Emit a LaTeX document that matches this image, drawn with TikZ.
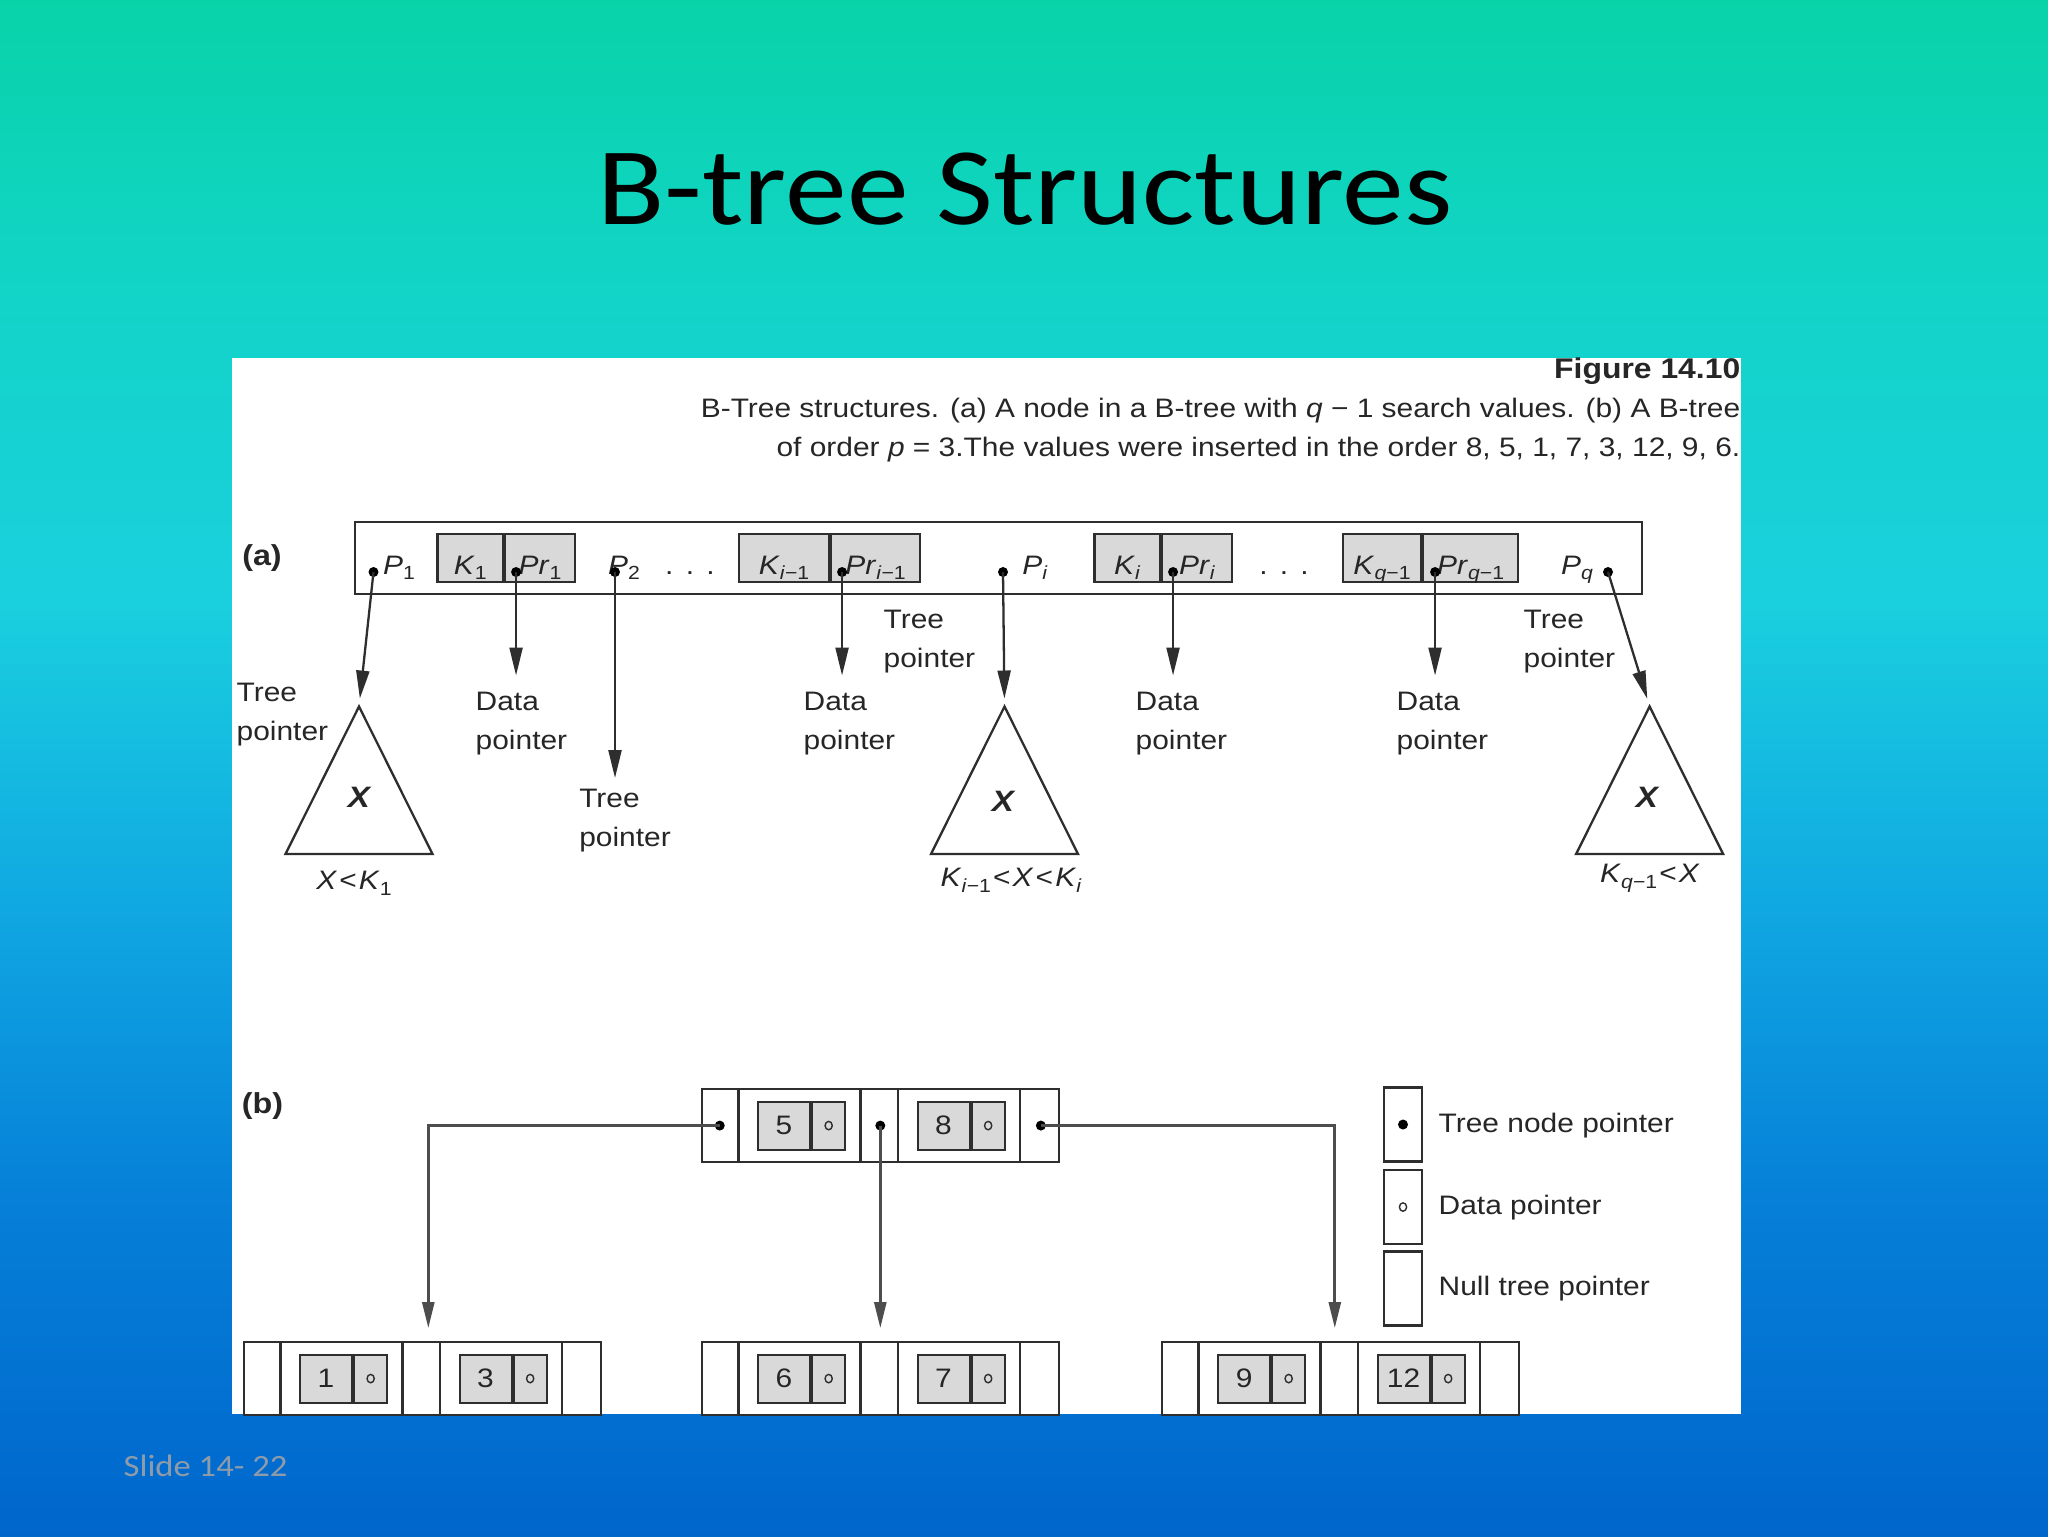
\documentclass[tikz,border=0pt]{standalone}
\usepackage{fontspec}
\setmainfont{Liberation Sans}[FakeStretch = 1.12]
\newfontfamily\titlefont{Carlito}[FakeStretch = 1.12]
\usetikzlibrary{arrows.meta}
\definecolor{bgtop}{HTML}{08D3A8}
\definecolor{bgteal}{HTML}{12D4C6}
\definecolor{bgcyan}{HTML}{1AD0DE}
\definecolor{bgsky}{HTML}{10A8E2}
\definecolor{bgblue}{HTML}{0680D8}
\definecolor{bgbottom}{HTML}{0066CC}
\definecolor{cellgray}{HTML}{D9D9D9}
\definecolor{linegray}{HTML}{2E2E2E}
\definecolor{footgray}{HTML}{8E9BAA}
\pgfdeclareverticalshading{slidebg}{100bp}{color(0bp)=(bgbottom); color(25bp)=(bgbottom); color(36bp)=(bgblue); color(45.5bp)=(bgsky); color(55.5bp)=(bgcyan); color(66bp)=(bgteal); color(75bp)=(bgtop); color(100bp)=(bgtop)}
\newcommand{\lowix}[1]{\raisebox{-0.4ex}{\fontsize{5.4pt}{6pt}\selectfont #1}}

\begin{document}
\begin{tikzpicture}[x = 0.1mm, y = -0.1mm,
        every node/.style = {font = \fontsize{7.6pt}{11.1pt}\selectfont, text = black!85},
        cell/.style = {draw = linegray, fill = cellgray, line width = 0.6pt, rectangle, minimum height = 4.85mm, inner sep = 0pt},
        pairtext/.style = {text height = 9.1pt, text depth = 0pt},
        ptrdot/.style = {circle, fill = black, inner sep = 0pt, minimum size = 1mm},
        ptrarrow/.style = {-{Triangle[length = 2.8mm, width = 1.3mm]}, line width = 0.65pt, draw = linegray},
        treelink/.style = {-{Triangle[length = 2.6mm, width = 1.2mm]}, line width = 0.8pt, draw = linegray!85, shorten > = 1.3mm},
        subtree/.style = {draw = linegray, line width = 0.65pt},
        ptrlabel/.style = {anchor = north west, align = left, inner sep = 0pt},
        btnode/.style = {draw = linegray, line width = 0.6pt, rectangle, minimum width = 35.65mm, minimum height = 7.3mm, inner sep = 0pt},
        keybox/.style = {cell, minimum width = 5.2mm, minimum height = 4.8mm},
        datamark/.style = {path picture = {\draw [line width = 0.4pt] (path picture bounding box.center) ellipse (0.36mm and 0.42mm);}},
        databox/.style = {cell, datamark, minimum width = 3.3mm, minimum height = 4.8mm},
        legbox/.style = {draw = linegray, line width = 0.6pt, minimum width = 3.8mm, minimum height = 7.4mm, inner sep = 0pt},
        subtreex/.style = {font = \bfseries\itshape\fontsize{8.4pt}{10pt}\selectfont}]
        \useasboundingbox (0,0) rectangle (2048,1536);
        % Slide background and figure panel
        \shade [shading = slidebg] (0,0) rectangle (2048,1536);
        \fill [white] (232,358) rectangle (1741,1414);
        \node [font = \titlefont\fontsize{31.4pt}{36pt}\selectfont, text = black, anchor = base] (title) at (1025,224) {B-tree Structures};
        \node [font = \titlefont\fontsize{8.8pt}{10pt}\selectfont, text = footgray, anchor = base west, inner sep = 0pt] (slideno) at (123,1476) {Slide 14- 22};
        % Caption
        \node [font = \bfseries\fontsize{8.1pt}{10pt}\selectfont, anchor = base east, inner sep = 0pt] (figno) at (1741,378) {Figure 14.10};
        \node [anchor = base east, inner sep = 0pt] (capa) at (1741,417) {B-Tree structures. (a) A node in a B-tree with \textit{q} − 1 search values. (b) A B-tree};
        \node [anchor = base east, inner sep = 0pt] (capb) at (1741,456) {of order \textit{p} = 3.The values were inserted in the order 8, 5, 1, 7, 3, 12, 9, 6.};

        % (a) Nodes
        \node [font = \bfseries\fontsize{8.2pt}{10pt}\selectfont] (alabel) at (262,558) {(a)};
        \node [draw = linegray, line width = 0.6pt, rectangle, minimum width = 128.7mm, minimum height = 7.2mm, inner sep = 0pt] (anode) at (998.5,558) {};
        \node [cell, pairtext, minimum width = 6.55mm] (k1) at (470.25,558) {\textit{K}\lowix{1}};
        \node [cell, pairtext, minimum width = 7mm, anchor = west] (pr1) at (k1.east) {\textit{Pr}\lowix{1}};
        \node [cell, pairtext, minimum width = 9mm] (kim) at (784,558) {\textit{K}\lowix{\textit{i}−1}};
        \node [cell, pairtext, minimum width = 8.9mm, anchor = west] (prim) at (kim.east) {\textit{Pr}\lowix{\textit{i}−1}};
        \node [cell, pairtext, minimum width = 6.55mm] (ki) at (1127.25,558) {\textit{K}\lowix{\textit{i}}};
        \node [cell, pairtext, minimum width = 7mm, anchor = west] (pri) at (ki.east) {\textit{Pr}\lowix{\textit{i}}};
        \node [cell, pairtext, minimum width = 7.8mm] (kqm) at (1382,558) {\textit{K}\lowix{\textit{q}−1}};
        \node [cell, pairtext, minimum width = 9.5mm, anchor = west] (prqm) at (kqm.east) {\textit{Pr}\lowix{\textit{q}−1}};
        \node [anchor = base] (p1) at (399,574) {\textit{P}\lowix{1}};
        \node [anchor = base] (p2) at (624,574) {\textit{P}\lowix{2}};
        \node [anchor = base] (pi) at (1035,574) {\textit{P}\lowix{\textit{i}}};
        \node [anchor = base] (pq) at (1577,574) {\textit{P}\lowix{\textit{q}}};
        \node [anchor = base] (dotsa) at (690,574) {.\hspace{3.5pt}.\hspace{3.5pt}.};
        \node [anchor = base] (dotsb) at (1284,574) {.\hspace{3.5pt}.\hspace{3.5pt}.};
        % Pointer dots
        \node [ptrdot] (p1dot) at (373.5,572) {};
        \node [ptrdot] (pr1dot) at ([xshift = 1.2mm, yshift = -1.4mm] pr1.west) {};
        \node [ptrdot] (p2dot) at (615,572) {};
        \node [ptrdot] (primdot) at ([xshift = 1.2mm, yshift = -1.4mm] prim.west) {};
        \node [ptrdot] (pidot) at (1003,572) {};
        \node [ptrdot] (pridot) at ([xshift = 1.2mm, yshift = -1.4mm] pri.west) {};
        \node [ptrdot] (prqmdot) at ([xshift = 1.3mm, yshift = -1.4mm] prqm.west) {};
        \node [ptrdot] (pqdot) at (1608,572) {};
        % Subtrees
        \coordinate (ta) at (359,706.5);
        \coordinate (tb) at (1004.5,706.5);
        \coordinate (tc) at (1649.6,706.5);
        \foreach \t in {ta, tb, tc}
            \draw [subtree] (\t) -- ++(-73.5,147.5) -- ++(147,0) -- cycle;
        \node [subtreex] (xa) at (359,797) {X};
        \node [subtreex] (xb) at (1003,801) {X};
        \node [subtreex] (xc) at (1647,797) {X};
        \node (rangea) at (354,883) {\textit{X}\kern0.6pt<\kern0.6pt\textit{K}\lowix{1}};
        \node (rangeb) at (1011,880) {\textit{K}\lowix{\textit{i}−1}\kern0.6pt<\kern0.6pt\textit{X}\kern0.6pt<\kern0.6pt\textit{K}\lowix{\textit{i}}};
        \node (rangec) at (1650,878) {\textit{K}\lowix{\textit{q}−1}\kern0.6pt<\kern0.6pt\textit{X}};
        % Pointer labels
        \node [ptrlabel] (treea) at (236,682.5) {Tree\\pointer};
        \node [ptrlabel] (dataa) at (475,691.5) {Data\\pointer};
        \node [ptrlabel] (treeb) at (578.6,788.5) {Tree\\pointer};
        \node [ptrlabel] (treec) at (883,609.5) {Tree\\pointer};
        \node [ptrlabel] (datab) at (803,691.5) {Data\\pointer};
        \node [ptrlabel] (datac) at (1135,691.5) {Data\\pointer};
        \node [ptrlabel] (datad) at (1396,691.5) {Data\\pointer};
        \node [ptrlabel] (treed) at (1523,609.5) {Tree\\pointer};
        % Draw the links
        \draw [ptrarrow, shorten > = 0.8mm] (p1dot.center) -- (ta);
        \draw [ptrarrow, shorten > = 1.6mm] (pr1dot.center) -- (pr1dot |- dataa.north);
        \draw [ptrarrow, shorten > = 1.05mm] (p2dot.center) -- (p2dot |- treeb.north);
        \draw [ptrarrow, shorten > = 1.6mm] (primdot.center) -- (primdot |- datab.north);
        \draw [ptrarrow, shorten > = 0.8mm] (pidot.center) -- (tb);
        \draw [ptrarrow, shorten > = 1.6mm] (pridot.center) -- (pridot |- datac.north);
        \draw [ptrarrow, shorten > = 1.6mm] (prqmdot.center) -- (prqmdot |- datad.north);
        \draw [ptrarrow, shorten > = 0.8mm] (pqdot.center) -- (tc);

        % (b) Nodes
        \node [font = \bfseries\fontsize{8.2pt}{10pt}\selectfont] (blabel) at (262.5,1106) {(b)};
        \foreach \nm/\x/\y/\ka/\kb in {root/701/1088/5/8, leafa/243/1341/1/3, leafb/701/1341/6/7, leafc/1161/1341/9/12} {
            \node [btnode, anchor = north west] (\nm) at (\x,\y) {};
            % Draw vertical lines to divide the node into five parts
            \foreach \d in {37.5, 159.5, 197, 319}
                \draw [line width = 0.6pt, linegray] (\nm.north west) ++(\d,0) -- ++(0,73);
            % Key and data pointer pairs
            \node [keybox, anchor = north west] (\nm-k1) at (\x + 56, \y + 12.5) {\ka};
            \node [databox, anchor = west] (\nm-d1) at (\nm-k1.east) {};
            \node [keybox, anchor = north west] (\nm-k2) at (\x + 215.5, \y + 12.5) {\kb};
            \node [databox, anchor = west] (\nm-d2) at (\nm-k2.east) {};
        }
        \node [ptrdot] (rootpa) at ([xshift = 1.875mm] root.west) {};
        \node [ptrdot] (rootpb) at (root.center) {};
        \node [ptrdot] (rootpc) at ([xshift = -1.875mm] root.east) {};
        % Draw the links
        \draw [treelink] (rootpa.center) -| ([xshift = 0.6mm] leafa.north);
        \draw [treelink] (rootpb.center) -- (leafb.north);
        \draw [treelink] (rootpc.center) -| ([xshift = -0.55mm] leafc.north);
        % Legend
        \node [legbox] (legtree) at (1403,1124.5) {};
        \node [ptrdot] (legdot) at (legtree.center) {};
        \node [legbox, datamark] (legdata) at (1403,1207) {};
        \node [legbox] (legnull) at (1403,1288.5) {};
        \node [anchor = west, inner sep = 0pt] (legtreetext) at (1438,1126) {Tree node pointer};
        \node [anchor = west, inner sep = 0pt] (legdatatext) at (1438,1208) {Data pointer};
        \node [anchor = west, inner sep = 0pt] (legnulltext) at (1438,1289) {Null tree pointer};
    \end{tikzpicture}
\end{document}
